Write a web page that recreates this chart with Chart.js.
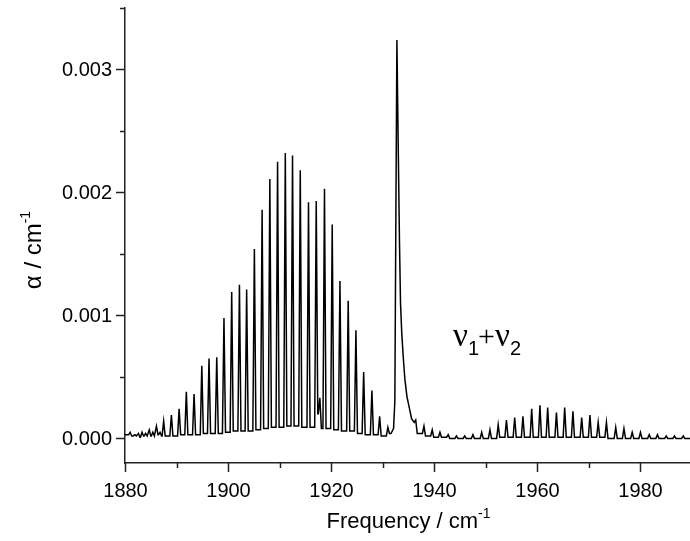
<!DOCTYPE html>
<html><head><meta charset="utf-8">
<script src="https://cdn.jsdelivr.net/npm/chart.js@4.4.1/dist/chart.umd.min.js"></script>
<style>html,body{margin:0;padding:0;background:#fff;overflow:hidden}#wrap{width:692px;height:541px;position:relative}</style>
</head><body><div id="wrap"><canvas id="c" width="692" height="541"></canvas></div>
<script>
// ---- data ----
// P branch lines (cm-1) and peak absorbance
const pFreq = [1881.0,1881.9,1882.6,1883.3,1884.0,1884.7,1885.4,1886.1,1886.8,1887.5,
  1889.0,1890.5,1891.9,1893.4,1894.9,1896.3,1897.8,1899.2,1900.7,1902.2,
  1903.6,1905.1,1906.6,1908.1,1909.6,1911.1,1912.5,1914.0,1915.6,1917.1,
  1917.8,1918.7,1920.2,1921.7,1923.3,1924.8,1926.3,1927.9,1929.4,1931.0];
const pAlpha = [0.00005,0.00003,0.00004,0.00005,0.00004,0.00007,0.00005,0.00010,0.00005,0.00014,
  0.00019,0.00024,0.00038,0.00036,0.00059,0.00065,0.00066,0.00098,0.00119,0.00125,
  0.00121,0.00154,0.00186,0.00211,0.00225,0.00232,0.00230,0.00218,0.00192,0.00193,
  0.00033,0.00203,0.00174,0.00128,0.00112,0.00088,0.00054,0.00039,0.00018,0.00009];
// baseline level before the first line and after each line
const pValley = [0.00003,
  0.00002,0.00002,0.00001,0.00002,0.00002,0.00002,0.00002,0.00003,0.00002,0.00002,
  0.00002,0.00003,0.00003,0.00003,0.00004,0.00004,0.00004,0.00005,0.00006,0.00006,
  0.00006,0.00007,0.00008,0.00009,0.00009,0.00010,0.00010,0.00009,0.00009,0.00020,
  0.00008,0.00008,0.00007,0.00006,0.00006,0.00004,0.00003,0.00003,0.00002,0.00004];
// Q branch profile
const qFreq  = [1931.6,1932.1,1932.35,1932.55,1932.75,1933.0,1933.25,1933.45,1933.7,1934.0,1934.3,1934.7,1935.1,1935.6];
const qAlpha = [0.00004,0.00008,0.0003,0.0018,0.00324,0.0024,0.0016,0.0011,0.00085,0.00065,0.00048,0.00034,0.00026,0.00016];
// R branch lines
const rFreq = [1936.4,1938.0,1939.6,1941.1,1942.7,1944.3,1945.9,1947.5,1949.2,1950.8,
  1952.4,1954.0,1955.6,1957.2,1958.9,1960.5,1962.0,1963.7,1965.3,1966.9,
  1968.6,1970.2,1971.8,1973.4,1975.2,1976.8,1978.4,1980.0,1981.7,1983.3,
  1985.0,1986.6,1988.3];
const rAlpha = [0.00015,0.00010,0.00007,0.00005,0.00003,0.00002,0.00002,0.00003,0.00005,0.00007,
  0.00011,0.00015,0.00017,0.00018,0.00024,0.00027,0.00025,0.00021,0.00025,0.00022,
  0.00017,0.00019,0.00013,0.00013,0.00009,0.00008,0.00005,0.00005,0.00003,0.00003,
  0.00002,0.00002,0.00002];
const rValley = [0.00013,
  0.00004,0.00002,0.00001,0.00001,0,0,0,0,0,0,
  0.00001,0.00001,0.00001,0.00001,0.00001,0.00001,0.00001,0.00001,0.00001,0.00001,
  0.00001,0.00001,0.00001,0,0,0,0,0,0,0,
  0,0,0];
const startPoint = [1880, 0.00003];
const endPoint = [1990, 0.0];

const xTicks = [1880,1890,1900,1910,1920,1930,1940,1950,1960,1970,1980,1990];
const xLabels = [1880,1900,1920,1940,1960,1980];
const yTicks = [0,0.0005,0.001,0.0015,0.002,0.0025,0.003,0.0035];
const yLabels = [0,0.001,0.002,0.003];

// ---- build line points ----
const FOOT = 0.3; // half base of a drawn line (cm-1)
function branch(freq, alpha, valley){
  const out=[];
  freq.forEach((f,i)=>{
    out.push({x:f-FOOT,y:valley[i]});
    out.push({x:f,y:alpha[i]});
    out.push({x:f+FOOT,y:valley[i+1]});
  });
  return out;
}
const points = [{x:startPoint[0],y:startPoint[1]}]
  .concat(branch(pFreq,pAlpha,pValley))
  .concat(qFreq.map((f,i)=>({x:f,y:qAlpha[i]})))
  .concat(branch(rFreq,rAlpha,rValley))
  .concat([{x:endPoint[0],y:endPoint[1]}]);

const SANS='"Liberation Sans", Arial, sans-serif';
const SERIF='"Liberation Serif", "Times New Roman", serif';

function drawParts(ctx, parts, cx, y){
  let w=0;
  parts.forEach(p=>{ctx.font=p.font; p.w=ctx.measureText(p.t).width; w+=p.w;});
  let x=cx-w/2;
  parts.forEach(p=>{ctx.font=p.font; ctx.fillText(p.t,x,y+(p.dy||0)); x+=p.w;});
}

const overlay = {
  id:'overlay',
  afterDraw(chart){
    const ctx=chart.ctx, xs=chart.scales.x, ys=chart.scales.y, ca=chart.chartArea;
    ctx.save();
    ctx.strokeStyle='#222'; ctx.lineWidth=1.5;
    ctx.fillStyle='#000';
    ctx.font='20px '+SANS;
    yTicks.forEach(v=>{
      const py=Math.round(ys.getPixelForValue(v))+0.5;
      const major=yLabels.includes(v);
      const len=major?9:5;
      ctx.beginPath(); ctx.moveTo(ca.left-len,py); ctx.lineTo(ca.left,py); ctx.stroke();
      if(major){ctx.textAlign='right';ctx.textBaseline='middle';ctx.fillText(v.toFixed(3),ca.left-13,py+1);}
    });
    xTicks.forEach(v=>{
      const px=Math.round(xs.getPixelForValue(v))+0.5;
      const major=xLabels.includes(v);
      const len=major?9:5;
      ctx.beginPath(); ctx.moveTo(px,ca.bottom); ctx.lineTo(px,ca.bottom+len); ctx.stroke();
      if(major){ctx.textAlign='center';ctx.textBaseline='middle';ctx.fillText(String(v),px,ca.bottom+28);}
    });
    ctx.textBaseline='alphabetic'; ctx.textAlign='left';
    // x title
    drawParts(ctx,[{t:'Frequency / cm',font:'22px '+SANS},{t:'-1',font:'14px '+SANS,dy:-10}],(ca.left+ca.right)/2,528);
    // y title
    ctx.save(); ctx.translate(41,250); ctx.rotate(-Math.PI/2);
    drawParts(ctx,[{t:'\u03b1 / cm',font:'24px '+SANS},{t:'-1',font:'14px '+SANS,dy:-11}],0,0);
    ctx.restore();
    // band label
    let x=453, y=346;
    const parts=[{t:'\u03bd',font:'33px '+SERIF},{t:'1',font:'20px '+SANS,dy:9},{t:'+',font:'30px '+SERIF,dx:-1},{t:'\u03bd',font:'33px '+SERIF},{t:'2',font:'20px '+SANS,dy:9}];
    parts.forEach(p=>{ctx.font=p.font; x+=(p.dx||0); ctx.fillText(p.t,x,y+(p.dy||0)); x+=ctx.measureText(p.t).width;});
    ctx.restore();
  }
};

new Chart(document.getElementById('c'),{
  type:'line',
  data:{datasets:[{data:points,borderColor:'#000',borderWidth:1.5,pointRadius:0,tension:0,fill:false}]},
  options:{
    responsive:false, animation:false, devicePixelRatio:1,
    layout:{padding:{top:8,right:0,left:0,bottom:0}},
    plugins:{legend:{display:false},tooltip:{enabled:false}},
    scales:{
      x:{type:'linear',min:1880,max:1990,
        afterBuildTicks:s=>{s.ticks=xTicks.map(v=>({value:v}));},
        afterFit:s=>{s.height=78;},
        grid:{display:false,drawTicks:false},
        border:{display:true,color:'#222',width:1.5},
        ticks:{display:false}},
      y:{type:'linear',min:-0.0002,max:0.0035,
        afterBuildTicks:s=>{s.ticks=yTicks.map(v=>({value:v}));},
        afterFit:s=>{s.width=125;},
        grid:{display:false,drawTicks:false},
        border:{display:true,color:'#222',width:1.5},
        ticks:{display:false}}
    }
  },
  plugins:[overlay]
});
</script></body></html>
